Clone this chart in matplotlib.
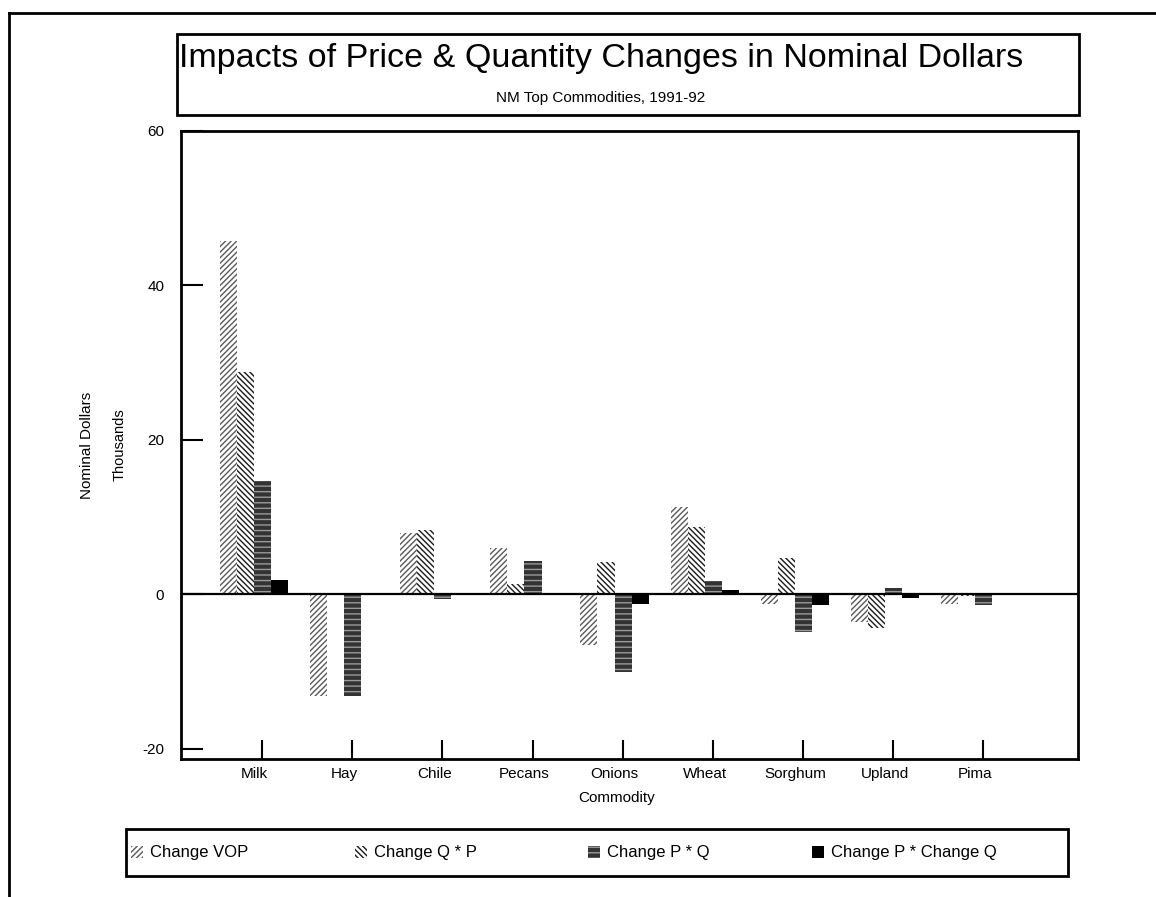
import matplotlib
matplotlib.use("Agg")
import matplotlib.pyplot as plt
from matplotlib.patches import Rectangle
from matplotlib.lines import Line2D
import numpy as np

plt.rcParams["font.family"] = ["Liberation Sans", "DejaVu Sans"]
plt.rcParams["hatch.linewidth"] = 1.0
plt.rcParams["axes.unicode_minus"] = False

commodities = ["Milk", "Hay", "Chile", "Pecans", "Onions", "Wheat", "Sorghum", "Upland", "Pima"]
change_vop = [45.7, -13.2, 7.9, 6.0, -6.6, 11.3, -1.2, -3.5, -1.2]
change_qp = [28.8, 0.0, 8.3, 1.3, 4.2, 8.7, 4.7, -4.4, -0.2]
change_pq = [14.7, -13.2, -0.6, 4.3, -10.0, 1.7, -4.9, 0.9, -1.4]
change_pdq = [1.9, 0.0, -0.1, 0.0, -1.2, 0.6, -1.3, -0.4, -0.1]

series = ["Change VOP", "Change Q * P", "Change P * Q", "Change P * Change Q"]
styles = [
    dict(facecolor="white", edgecolor="#5a5a5a", hatch="//////"),
    dict(facecolor="white", edgecolor="#1a1a1a", hatch="\\\\\\\\\\\\"),
    dict(facecolor="#333333", edgecolor="#9a9a9a", hatch="---"),
    dict(facecolor="black", edgecolor="black", hatch=None),
]

W, H = 1156, 897
fig = plt.figure(figsize=(W / 100, H / 100), dpi=100)
fig.patch.set_facecolor("white")

# outer frame (top and left only)
fig.add_artist(Line2D([9 / W, 1], [1 - 13 / H, 1 - 13 / H], color="black", lw=2))
fig.add_artist(Line2D([9 / W, 9 / W], [0, 1 - 13 / H], color="black", lw=2))

# title box
fig.add_artist(Rectangle((177 / W, 1 - 115 / H), 902 / W, 81 / H, fill=False,
                         edgecolor="black", lw=2))
fig.text(601 / W, 1 - 58 / H, "Impacts of Price & Quantity Changes in Nominal Dollars",
         ha="center", va="center", fontsize=24.5)
fig.text(601 / W, 1 - 98 / H, "NM Top Commodities, 1991-92", ha="center", va="center",
         fontsize=11)

ax = fig.add_axes([181 / W, 1 - 759 / H, 897 / W, 628 / H])
x = np.arange(len(commodities))
w = 0.19
all_vals = [change_vop, change_qp, change_pq, change_pdq]
for k, (vals, st) in enumerate(zip(all_vals, styles)):
    ax.bar(x + (k - 1.5) * w, vals, w, linewidth=0, **st)

ax.axhline(0, color="black", lw=1.6)
ax.set_xlim(-0.81, 9.14)
ax.set_ylim(-21.3, 60)
ax.set_yticks([60, 40, 20, 0, -20])
ax.tick_params(axis="y", direction="in", length=16, width=1.5, labelsize=11, pad=12)
ax.set_xticks(x)
ax.set_xticklabels(commodities)
ax.tick_params(axis="x", length=0, labelsize=11, pad=6)
ax.set_xticks(x + 0.09, minor=True)
ax.tick_params(axis="x", which="minor", direction="in", length=14, width=1.5)
for s in ax.spines.values():
    s.set_linewidth(2)

fig.text(617 / W, 1 - 798 / H, "Commodity", ha="center", va="center", fontsize=11)
fig.text(87 / W, 1 - 445 / H, "Nominal Dollars", ha="center", va="center",
         rotation=90, fontsize=11)
fig.text(120 / W, 1 - 445 / H, "Thousands", ha="center", va="center",
         rotation=90, fontsize=10.5)

# legend box, drawn by hand to keep the original spacing
fig.add_artist(Rectangle((126 / W, 1 - 876 / H), 942 / W, 47 / H, fill=False,
                         edgecolor="black", lw=2))
leg_x = [131, 355, 588, 812]
for lx, name, st in zip(leg_x, series, styles):
    fig.add_artist(Rectangle((lx / W, 1 - 858 / H), 12 / W, 12 / H, linewidth=0, **st))
    fig.text((lx + 19) / W, 1 - 852 / H, name, ha="left", va="center", fontsize=12)

fig.savefig("out.png", dpi=100, facecolor="white")
